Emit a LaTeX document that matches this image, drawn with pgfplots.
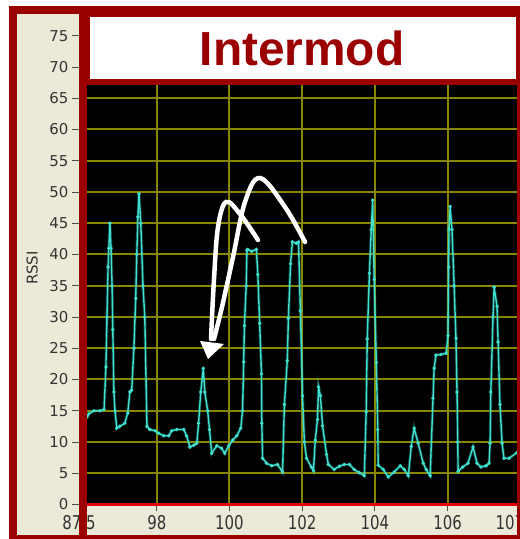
\documentclass[border=0pt]{standalone}
\usepackage{pgfplots}
\pgfplotsset{compat=1.18}
\usepackage{pgfplotstable}
\usepackage{graphicx}
\usepackage{fontspec}
\setmainfont{DejaVu Sans}
\newfontfamily\titlefont{Liberation Sans}

\definecolor{frame}{RGB}{155,0,0}
\definecolor{beige}{RGB}{236,233,216}
\definecolor{gridc}{RGB}{135,135,0}
\definecolor{trace}{RGB}{64,224,208}
\definecolor{axred}{RGB}{225,0,0}
\newcommand\sx[1]{\scalebox{1}[1.27]{#1}}

\pgfplotstableread{
x y
96.08 14
96.13 14.5
96.27 15
96.44 15
96.55 15.2
96.60 22
96.63 30
96.66 38
96.68 41
96.71 45
96.74 41
96.77 35
96.79 28
96.82 18
96.85 15
96.90 12.2
96.98 12.5
97.12 13
97.20 14.6
97.26 18
97.31 18.3
97.37 25
97.42 33
97.45 40
97.48 46
97.51 49.7
97.56 45
97.62 35
97.67 30
97.73 12.5
97.81 12
97.95 11.8
98.05 11.4
98.19 11
98.33 11
98.41 11.8
98.55 12
98.74 12
98.82 11
98.91 9.2
99.02 9.5
99.10 9.8
99.15 13
99.21 18
99.28 21.8
99.32 18
99.40 15
99.45 12
99.51 8.2
99.65 9.4
99.78 9
99.87 8.2
99.98 9.4
100.09 10.3
100.20 11
100.31 12.2
100.36 15
100.39 22.8
100.41 28.6
100.46 35
100.48 40.7
100.50 40.8
100.61 40.5
100.74 40.8
100.78 36.8
100.83 29
100.88 20.9
100.89 13
100.91 7.4
101.02 6.6
101.16 6.2
101.32 6.4
101.46 5.2
101.51 16
101.59 23
101.62 29.8
101.68 38.5
101.73 42
101.84 41.8
101.90 42
101.95 31
102.01 17.4
102.06 10
102.12 7.4
102.25 6
102.31 5.4
102.36 10.3
102.42 13.6
102.45 18.8
102.50 17.4
102.56 12.6
102.67 8
102.72 6.4
102.88 5.6
103.02 6.1
103.16 6.4
103.30 6.4
103.43 5.6
103.57 5.1
103.71 4.6
103.76 14.8
103.79 26.5
103.85 37
103.90 44
103.94 48.7
103.98 36
104.04 22.7
104.08 12
104.09 6.3
104.23 5.6
104.37 4.4
104.53 5.2
104.70 6.2
104.81 5.6
104.92 4.6
105.00 9.3
105.08 12.2
105.19 9.8
105.33 6.6
105.41 5.6
105.52 4.6
105.60 17
105.63 21.8
105.68 23.9
105.82 24
105.96 24.2
106.01 27
106.03 38
106.04 44
106.07 47.7
106.12 44
106.18 35
106.23 26.6
106.26 18
106.28 10
106.29 5.3
106.42 6
106.56 6.6
106.70 9.2
106.81 6.6
106.92 6
107.06 6.2
107.14 6.6
107.17 9.8
107.19 18
107.25 30
107.28 34.8
107.36 31.7
107.39 26
107.44 16
107.50 9.8
107.55 7.4
107.69 7.4
107.91 8.3
}\rssi

\begin{document}
\begin{tikzpicture}[x=1bp,y=1bp]
\useasboundingbox (0,0) rectangle (520,539);
\fill[white] (0,0) rectangle (520,539);
\fill[frame] (9,0) rectangle (520,533);
\fill[beige] (17,4) rectangle (517,525);
\begin{axis}[
  at={(79bp,34.5bp)}, anchor=south west,
  scale only axis, width=438bp, height=487.5bp,
  xmin=95.86, xmax=107.91, ymin=0, ymax=78,
  axis background/.style={fill=black},
  axis lines*=left,
  x axis line style={draw=axred, line width=2.5bp},
  y axis line style={draw=none},
  xtick={98,100,102,104,106},
  xticklabels={\sx{98},\sx{100},\sx{102},\sx{104},\sx{106}},
  extra x ticks={95.86,107.91},
  extra x tick labels={\sx{87.5},\sx{107.9}},
  extra x tick style={grid=none},
  ytick={0,5,...,75},
  grid=major,
  major grid style={draw=gridc, line width=2bp},
  tick align=outside, major tick length=7bp,
  tick style={draw=black!70, line width=0.8bp},
  ticklabel style={font=\fontsize{15}{15}\selectfont, text=black!80},
  /pgf/number format/assume math mode=true,
  ylabel={RSSI},
  ylabel style={at={(axis description cs:-0.107,0.485)}, anchor=center, font=\fontsize{15}{15}\selectfont, text=black!80},
]
\addplot[draw=trace, line width=3.2bp, opacity=0.25, forget plot] table[x=x,y=y]{\rssi};
\addplot[draw=trace, line width=1.4bp, mark=*, mark size=0.9bp, mark options={fill=trace, draw=trace}] table[x=x,y=y]{\rssi};
\end{axis}
% frame strips over the axis
\fill[frame] (79,4) rectangle (87,533);
\fill[frame] (79,454) rectangle (520,533);
\fill[frame] (517,4) rectangle (520,533);
\fill[frame] (9,0) rectangle (520,4);
\fill[white] (90,460) rectangle (516,522);
\node[anchor=base, text=frame, inner sep=0pt] at (302,473) {\titlefont\bfseries\fontsize{48}{48}\selectfont Intermod};
% annotation arrows
\draw[white, line width=4.5bp, line cap=round] plot[smooth, tension=0.6] coordinates {(258,299) (240,325) (226,337) (218,312) (214,260) (211,200)};
\draw[white, line width=4.5bp, line cap=round] plot[smooth, tension=0.6] coordinates {(305,297) (285,332) (260,361) (245,337) (233,282) (222,232) (214,200)};
\fill[white] (208,180) -- (200,198) -- (224,195) -- cycle;
\end{tikzpicture}
\end{document}
